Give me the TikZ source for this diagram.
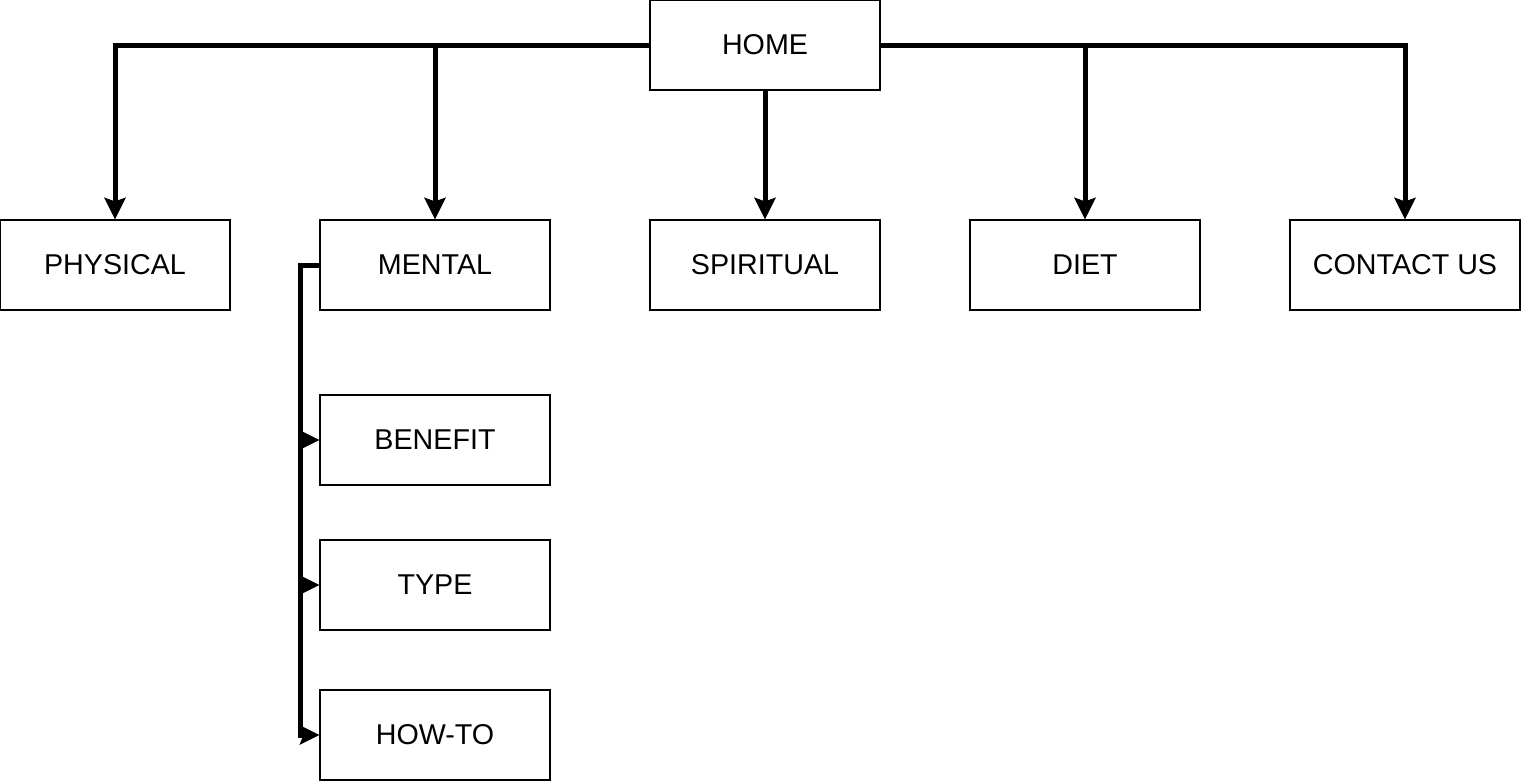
\documentclass[tikz,border=0pt]{standalone}
\usepackage{fontspec}
\setmainfont{Liberation Sans}
\begin{document}
\begin{tikzpicture}[x=0.75pt,y=-0.75pt,
  box/.style={draw=black,line width=0.9pt,fill=white,minimum width=172.5pt,minimum height=67.5pt,inner sep=0pt,font=\fontsize{21.5}{24}\selectfont},
  conn/.style={draw=black,line width=3.75pt,shorten >=11pt},
  tip/.style={fill=black}]
\useasboundingbox (0,0) rectangle (1521,782);
\node[box] (home) at (765,45) {HOME};
\node[box] (phys) at (115,265) {PHYSICAL};
\node[box] (ment) at (435,265) {MENTAL};
\node[box] (spir) at (765,265) {SPIRITUAL};
\node[box] (diet) at (1085,265) {DIET};
\node[box] (cont) at (1405,265) {CONTACT US};
\node[box] (ben) at (435,440) {BENEFIT};
\node[box] (type) at (435,585) {TYPE};
\node[box] (how) at (435,735) {HOW-TO};
\coordinate (mx) at (300,265);
\draw[conn] (home.west) -| (phys.north);
\draw[conn] (home.west) -| (ment.north);
\draw[conn] (home.south) -- (spir.north);
\draw[conn] (home.east) -| (diet.north);
\draw[conn] (home.east) -| (cont.north);
\draw[conn] (ment.west) -- (mx) |- (ben.west);
\draw[conn] (ment.west) -- (mx) |- (type.west);
\draw[conn] (ment.west) -- (mx) |- (how.west);
\foreach \t in {phys,ment,spir,diet,cont}{
  \fill[tip] (\t.north) -- ++(-11,-22) -- ++(11,4) -- ++(11,-4) -- cycle;
}
\foreach \t in {ben,type,how}{
  \fill[tip] (\t.west) -- ++(-20,-10) -- ++(4,10) -- ++(-4,10) -- cycle;
}
\end{tikzpicture}
\end{document}
